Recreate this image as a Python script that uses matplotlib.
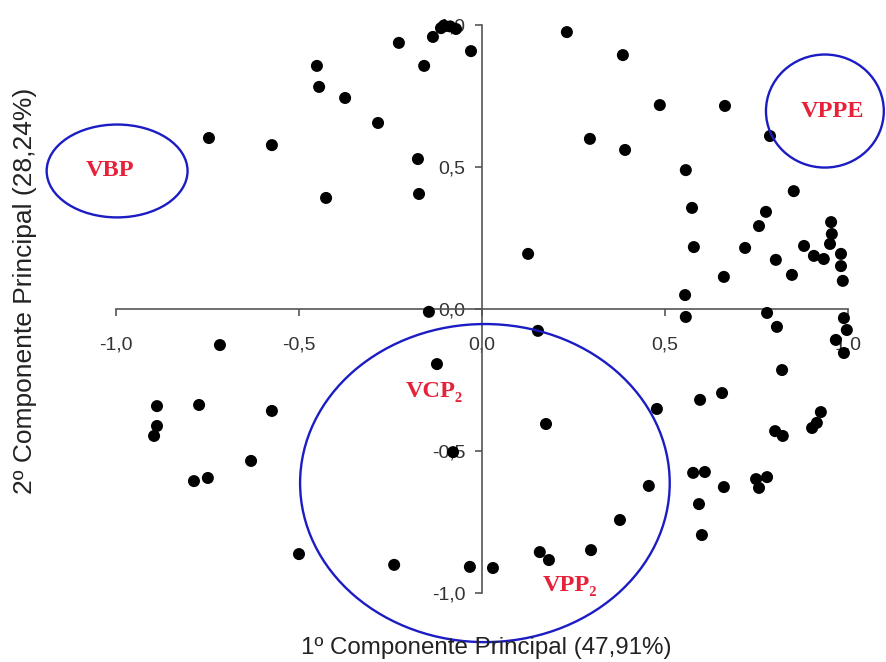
import matplotlib
matplotlib.use("Agg")
import matplotlib.pyplot as plt
from matplotlib.patches import Ellipse

# loadings (1st PC, 2nd PC)
pc1 = [-0.746, -0.574, -0.451, -0.445, -0.374, -0.284, -0.227, -0.158, -0.134, -0.112,
       -0.104, -0.087, -0.071, -0.030, -0.175, -0.172, -0.426, -0.145,
       0.232, 0.385, 0.486, 0.664, 0.295, 0.391, 0.787, 0.557, 0.852, 0.574,
       0.776, 0.757, 0.954, 0.956, 0.951, 0.880, 0.719, 0.579, 0.126, 0.907,
       0.934, 0.803, 0.981, 0.981, 0.986, 0.661, 0.847, 0.555,
       0.557, 0.779, 0.989, 0.806, 0.997, 0.967, 0.989, 0.820, 0.656, 0.596,
       0.478, 0.926, 0.915, 0.902, 0.801, 0.822, 0.175, 0.153, 0.577, 0.609,
       0.456, 0.661, 0.749, 0.779, 0.757, 0.593, 0.601, 0.377, 0.298, 0.158,
       0.183, -0.033, 0.030, -0.079,
       -0.716, -0.888, -0.773, -0.574, -0.888, -0.896, -0.631, -0.787, -0.749,
       -0.500, -0.240, -0.123]
pc2 = [0.602, 0.577, 0.856, 0.782, 0.743, 0.655, 0.937, 0.856, 0.958, 0.989,
       0.998, 0.995, 0.986, 0.908, 0.528, 0.405, 0.391, -0.010,
       0.975, 0.894, 0.718, 0.715, 0.599, 0.560, 0.609, 0.489, 0.415, 0.356,
       0.342, 0.292, 0.306, 0.264, 0.229, 0.222, 0.215, 0.218, 0.194, 0.187,
       0.176, 0.173, 0.194, 0.151, 0.099, 0.113, 0.120, 0.049,
       -0.028, -0.014, -0.032, -0.063, -0.074, -0.109, -0.155, -0.215, -0.296, -0.320,
       -0.352, -0.363, -0.401, -0.419, -0.430, -0.447, -0.405, -0.077, -0.577, -0.574,
       -0.623, -0.627, -0.599, -0.592, -0.630, -0.687, -0.796, -0.743, -0.849, -0.856,
       -0.884, -0.908, -0.912, -0.504,
       -0.127, -0.342, -0.338, -0.359, -0.412, -0.447, -0.535, -0.606, -0.595,
       -0.863, -0.901, -0.194]

ticks = [-1.0, -0.5, 0.0, 0.5, 1.0]
tick_labels = ['-1,0', '-0,5', '0,0', '0,5', '1,0']

# groups: name, label position, ellipse centre and size
groups = ['VBP', 'VPPE', 'VCP\u2082', 'VPP\u2082']
label_xy = [(-1.016, 0.486), (0.959, 0.697), (-0.131, -0.289), (0.240, -0.975)]
ell_xy = [(-0.997, 0.486), (0.937, 0.697), (0.008, -0.613)]
ell_w = [0.385, 0.322, 1.01]
ell_h = [0.327, 0.398, 1.12]

fig = plt.figure(figsize=(8.86, 6.62), dpi=100)
ax = fig.add_axes([0, 0, 1, 1])
ax.set_xlim(-1.317, 1.104)
ax.set_ylim(-1.243, 1.088)

ax.scatter(pc1, pc2, s=75, c='black', edgecolors='none', zorder=3, clip_on=False)

for (cx, cy), w, h in zip(ell_xy, ell_w, ell_h):
    ax.add_patch(Ellipse((cx, cy), w, h, fill=False, ec='#1c1cc4', lw=1.7, zorder=4, clip_on=False))

for name, (tx, ty) in zip(groups, label_xy):
    ax.text(tx, ty, name, color='#e5223a', fontsize=17.5, fontweight='bold',
            family=['Liberation Serif', 'DejaVu Serif'], ha='center', va='center', zorder=5)

for key in ['top', 'right']:
    ax.spines[key].set_visible(False)
for key in ['left', 'bottom']:
    ax.spines[key].set_position(('data', 0))
    ax.spines[key].set_bounds(-1, 1)
    ax.spines[key].set_color('#555555')
    ax.spines[key].set_linewidth(1.2)

ax.set_xticks(ticks)
ax.set_xticklabels(tick_labels)
ax.set_yticks(ticks)
ax.set_yticklabels(tick_labels)
ax.tick_params(axis='x', direction='out', length=5, width=1.2, color='#555555', pad=15,
               labelsize=14, labelcolor='#333333')
ax.tick_params(axis='y', direction='out', length=5, width=1.2, color='#555555', pad=7,
               labelsize=14, labelcolor='#333333')
for lab in ax.get_xticklabels() + ax.get_yticklabels():
    lab.set_family('Liberation Sans')

fig.text(0.549, 0.021, '1º Componente Principal (47,91%)', ha='center', va='center',
         fontsize=17.4, family='Liberation Sans', color='#222222')
fig.text(0.028, 0.560, '2º Componente Principal (28,24%)', ha='center', va='center',
         rotation=90, fontsize=19, family='Liberation Sans', color='#222222')

plt.savefig('out.png', dpi=100)
